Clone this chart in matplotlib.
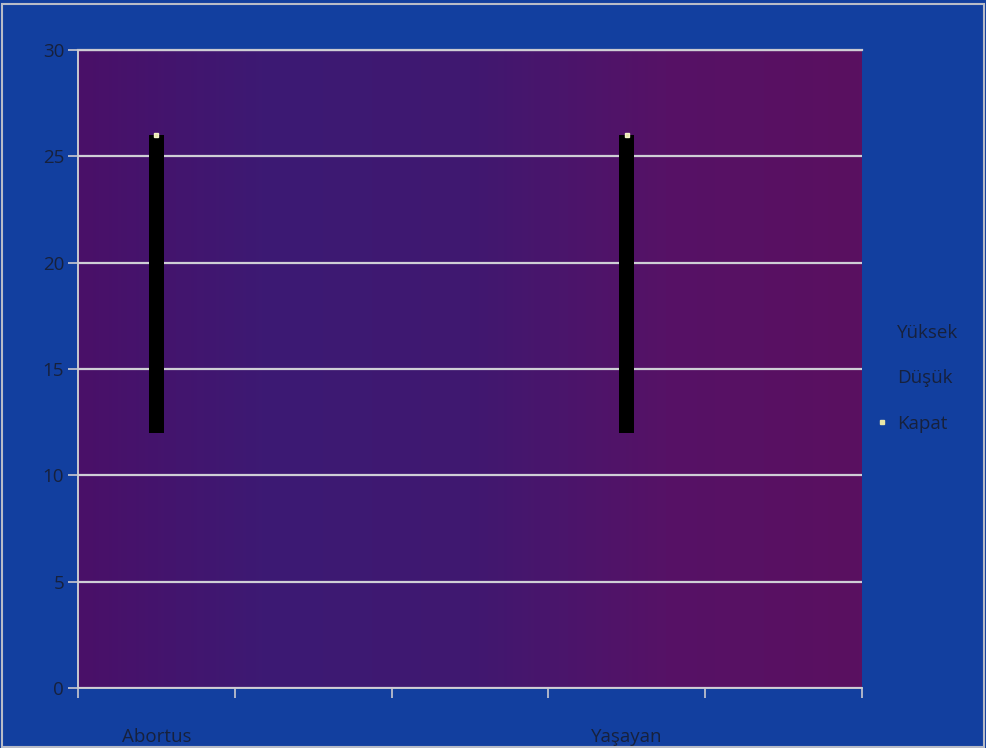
import numpy as np
import matplotlib.pyplot as plt
from matplotlib.lines import Line2D
from matplotlib.colors import LinearSegmentedColormap

categories = ["Abortus", "", "", "Yaşayan", ""]
high = [26, None, None, 26, None]
low = [12, None, None, 12, None]
close = [26, None, None, 26, None]
legend_labels = ["Yüksek", "Düşük", "Kapat"]

plt.rcParams["font.family"] = ["Open Sans", "DejaVu Sans"]

outer_blue = "#123f9f"
text_col = "#17213c"

fig = plt.figure(figsize=(9.86, 7.48), dpi=100, facecolor=outer_blue)
ax = fig.add_axes([0.0791, 0.0802, 0.7951, 0.853])

# horizontal gradient fill of the plot area
cmap = LinearSegmentedColormap.from_list(
    "plotbg", ["#4a1068", "#3c1a74", "#401870", "#561266", "#5a1060"])
grad = np.linspace(0, 1, 256).reshape(1, -1)
ax.imshow(grad, cmap=cmap, aspect="auto", extent=[0, 5, 0, 30], zorder=0)

ax.set_xlim(0, 5)
ax.set_ylim(0, 30)

x = np.arange(len(categories)) + 0.5
idx = [i for i, h in enumerate(high) if h is not None]
xs = x[idx]
hi = np.array([high[i] for i in idx], dtype=float)
lo = np.array([low[i] for i in idx], dtype=float)
cl = np.array([close[i] for i in idx], dtype=float)

ax.bar(xs, hi - lo, bottom=lo, width=0.095, color="black", zorder=3)
ax.plot(xs, cl, linestyle="none", marker="s", markersize=3.5,
        color="#e9e6a6", markeredgecolor="#f4f2c8", zorder=4)

ax.set_yticks(np.arange(0, 31, 5))
ax.yaxis.grid(True, color="#cfcfd6", linewidth=1.6, zorder=1)
ax.set_axisbelow(False)
ax.tick_params(axis="y", colors="#c9c9d0", labelcolor=text_col,
               labelsize=13.5, length=7, width=1.2, pad=3)

ax.set_xticks(np.arange(0, 6))
ax.set_xticklabels([])
ax.set_xticks(x, minor=True)
ax.set_xticklabels(categories, minor=True)
ax.tick_params(axis="x", which="major", colors="#c9c9d0", length=7, width=1.2)
ax.tick_params(axis="x", which="minor", length=0, labelcolor=text_col,
               labelsize=13.5, pad=29)

for side in ["top", "right"]:
    ax.spines[side].set_visible(False)
for side in ["left", "bottom"]:
    ax.spines[side].set_color("#c9c9d0")
    ax.spines[side].set_linewidth(1.4)
ax.plot([0, 5], [30, 30], color="#c9c9d0", linewidth=1.6, zorder=2, clip_on=False)

handles = [Line2D([], [], linestyle="none"),
           Line2D([], [], linestyle="none"),
           Line2D([], [], linestyle="none", marker="s", markersize=3,
                  color="#e9e6a6")]
leg = fig.legend(handles, legend_labels, loc="center left",
                 bbox_to_anchor=(0.872, 0.494), frameon=False, fontsize=13.5,
                 labelcolor=text_col, handlelength=0.6, handletextpad=0.5,
                 labelspacing=1.45)

# thin light frame round the chart
fig.patches.append(plt.Rectangle((0.002, 0.002), 0.996, 0.993,
                                 transform=fig.transFigure, fill=False,
                                 edgecolor="#b8bcc8", linewidth=1.5))

fig.savefig("out.png", dpi=100, facecolor=outer_blue)
